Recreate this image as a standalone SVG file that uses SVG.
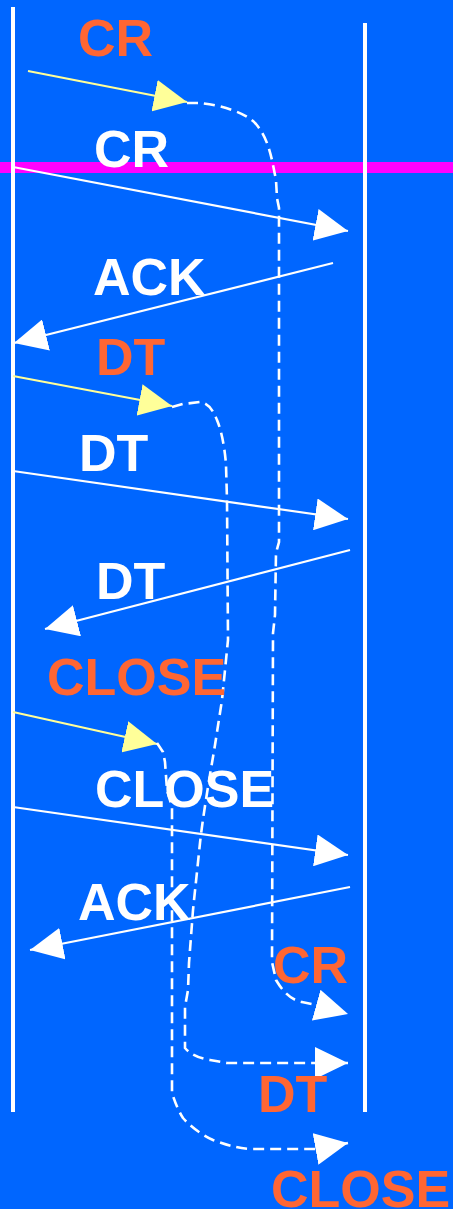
<svg xmlns="http://www.w3.org/2000/svg" width="453" height="1209" viewBox="0 0 453 1209">
<style>
.lbl{font-family:"Liberation Sans",Arial,sans-serif;font-weight:bold;font-size:52px}
.o{fill:#FF6633}
.w{fill:#FFFFFF}
.msg{stroke:#FFFFFF;stroke-width:2.2;fill:none;marker-end:url(#aw)}
.pre{stroke:#FFFF99;stroke-width:2.2;fill:none;marker-end:url(#ay)}
.dash{stroke:#FFFFFF;stroke-width:2.6;fill:none;stroke-dasharray:11 6;marker-end:url(#aw)}
.life{stroke:#FFFFFF;stroke-width:4}
</style>
<defs>
<marker id="aw" markerUnits="userSpaceOnUse" markerWidth="33" markerHeight="32" viewBox="0 0 33 32" refX="33" refY="16" orient="auto"><path d="M0,0 L33,16 L0,32 z" fill="#FFFFFF"/></marker>
<marker id="ay" markerUnits="userSpaceOnUse" markerWidth="33" markerHeight="32" viewBox="0 0 33 32" refX="33" refY="16" orient="auto"><path d="M0,0 L33,16 L0,32 z" fill="#FFFF99"/></marker>
</defs>
<rect width="453" height="1209" fill="#0066FF"/>
<rect id="band" x="0" y="162" width="453" height="11" fill="#FF00FF"/>
<g id="lifelines">
<line class="life" x1="13" y1="7" x2="13" y2="1112"/>
<line class="life" x1="365" y1="23" x2="365" y2="1112"/>
</g>
<g id="connectors">
<line class="pre" x1="28" y1="71" x2="187" y2="102"/>
<line class="msg" x1="13" y1="167" x2="348" y2="231"/>
<line class="msg" x1="333" y1="263" x2="14" y2="343"/>
<line class="pre" x1="13" y1="376" x2="172" y2="406"/>
<line class="msg" x1="13" y1="471" x2="348" y2="519"/>
<line class="msg" x1="350" y1="550" x2="45" y2="629"/>
<line class="pre" x1="13" y1="712" x2="157" y2="744"/>
<line class="msg" x1="13" y1="807" x2="348" y2="855"/>
<line class="msg" x1="350" y1="887" x2="30" y2="950"/>
<path class="dash" d="M187,103 L200,103 C220,105 245,112 256,124 C266,136 270,150 273,165 L276,180 L277,198 L279,208 L279,542 L276,553 L275,615 L273,633 L272,962 L276,980 C282,990 290,1000 302,1002 L312,1004 L348,1014"/>
<path class="dash" d="M172,407 L183,404 L200,402 C208,403 213,410 217,420 C222,432 225,450 226,465 L227,500 L228,640 L225,670 L222,700 L215,745 C210,775 203,815 200,843 L193,910 L189,963 L188,990 L185,1007 L185,1048 C190,1054 198,1058 210,1060 L227,1063 L348,1063"/>
<path class="dash" d="M157,743 L163,752 L165,762 L167,790 L172,807 L172,1093 C175,1102 178,1110 183,1118 C190,1126 200,1134 213,1140 C225,1144 235,1148 250,1149 L315,1149 L348,1143"/>
</g>
<g id="labels">
<text id="t-cr1" class="lbl o" x="78" y="56">CR</text>
<text id="t-cr2" class="lbl w" x="94" y="167">CR</text>
<text id="t-ack1" class="lbl w" x="93" y="295">ACK</text>
<text id="t-dt1" class="lbl o" x="96" y="375">DT</text>
<text id="t-dt2" class="lbl w" x="79" y="471">DT</text>
<text id="t-dt3" class="lbl w" x="96" y="599">DT</text>
<text id="t-close1" class="lbl o" x="47" y="695">CLOSE</text>
<text id="t-close2" class="lbl w" x="95" y="807">CLOSE</text>
<text id="t-ack2" class="lbl w" x="78" y="920">ACK</text>
<text id="t-cr3" class="lbl o" x="273" y="983">CR</text>
<text id="t-dt4" class="lbl o" x="258" y="1112">DT</text>
<text id="t-close3" class="lbl o" x="271" y="1207">CLOSE</text>
</g>
</svg>
